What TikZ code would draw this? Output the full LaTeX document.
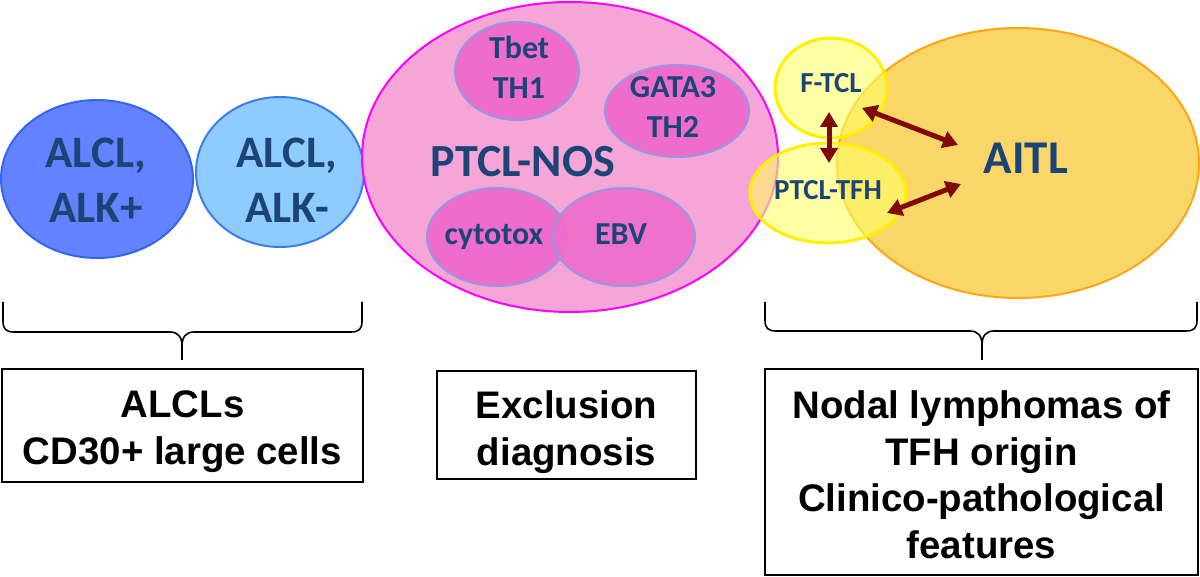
\documentclass[tikz,border=0pt]{standalone}
\usepackage{fontspec}
\setmainfont{Carlito}[BoldFont={Carlito Bold}]
\newfontfamily\boxfont{Liberation Sans}[BoldFont={Liberation Sans Bold}]
\usetikzlibrary{shapes.geometric,arrows.meta}
\definecolor{txtblue}{RGB}{28,68,118}
\definecolor{alkpfill}{RGB}{99,130,255}
\definecolor{alkpedge}{RGB}{51,102,238}
\definecolor{alkmfill}{RGB}{142,203,255}
\definecolor{alkmedge}{RGB}{61,125,235}
\definecolor{nosfill}{RGB}{245,166,214}
\definecolor{nosedge}{RGB}{255,0,255}
\definecolor{subfill}{RGB}{238,108,204}
\definecolor{subedge}{RGB}{150,150,225}
\definecolor{aitlfill}{RGB}{250,214,105}
\definecolor{aitledge}{RGB}{255,165,20}
\definecolor{tfhfill}{RGB}{255,255,102}
\definecolor{tfhedge}{RGB}{255,240,0}
\definecolor{arrowred}{RGB}{128,8,8}
\begin{document}
\begin{tikzpicture}[x=0.5pt,y=-0.5pt,
  cell/.style={ellipse, draw, line width=1pt, inner sep=0pt, outer sep=0pt},
  subcell/.style={cell, fill=subfill, draw=subedge},
  tfhcell/.style={cell, fill=tfhfill, fill opacity=0.6, draw=tfhedge, line width=1.5pt},
  lbl/.style={text=txtblue, inner sep=0pt, align=center},
  bigtxt/.style={lbl, font=\bfseries\fontsize{22.5}{27.5}\selectfont},
  midtxt/.style={lbl, font=\bfseries\fontsize{16}{20}\selectfont},
  smalltxt/.style={lbl, font=\bfseries\fontsize{14.5}{17}\selectfont},
  panel/.style={draw=black, line width=1pt, inner sep=0pt, outer sep=0pt},
  paneltxt/.style={inner sep=0pt, align=center, anchor=north, font=\boxfont\bfseries\fontsize{19.2}{23.4}\selectfont},
  bracest/.style={draw=black, line width=0.8pt},
  relarrow/.style={{Triangle[length=7.5pt,width=8.5pt]}-{Triangle[length=7.5pt,width=8.5pt]}, line width=2.5pt, draw=arrowred}
]
\useasboundingbox (0,0) rectangle (1200,577);

% ALCL group
\node[cell, fill=alkpfill, draw=alkpedge, minimum width=96pt, minimum height=79pt] (alkp) at (97,179) {};
\node[cell, fill=alkmfill, draw=alkmedge, minimum width=84pt, minimum height=75pt] (alkm) at (280,172) {};
\node[bigtxt] (alkpT) at (96,180) {ALCL,\\ALK+};
\node[bigtxt] (alkmT) at (287,180) {ALCL,\\ALK-};

% PTCL-NOS
\node[cell, fill=nosfill, draw=nosedge, minimum width=208pt, minimum height=155pt] (nos) at (570,157) {};
\node[subcell, minimum width=62pt, minimum height=49pt] (th1) at (517,71) {};
\node[subcell, minimum width=72pt, minimum height=46pt] (th2) at (677,111) {};
\node[subcell, minimum width=70pt, minimum height=49pt] (cyt) at (497,237) {};
\node[subcell, fill opacity=0.9, minimum width=71pt, minimum height=49pt] (ebv) at (624,237) {};
\node[lbl, font=\bfseries\fontsize{23}{27}\selectfont] (nosT) at (523,162) {PTCL-NOS};
\node[midtxt] (th1T) at (519,67.5) {Tbet\\TH1};
\node[midtxt] (th2T) at (673,107) {GATA3\\TH2};
\node[midtxt, anchor=base] (cytT) at (494,245) {cytotox};
\node[midtxt, anchor=base] (ebvT) at (621,245) {EBV};

% TFH group
\node[cell, fill=aitlfill, draw=aitledge, minimum width=181pt, minimum height=135pt] (aitl) at (1018,163) {};
\node[tfhcell, minimum width=56pt, minimum height=50pt] (ftcl) at (831,88) {};
\node[tfhcell, minimum width=78pt, minimum height=50pt] (tfh) at (828,193) {};
\node[lbl, font=\bfseries\fontsize{23.5}{27}\selectfont] (aitlT) at (1026,158) {AITL};
\node[smalltxt] (ftclT) at (831,83) {F-TCL};
\node[smalltxt] (tfhT) at (828,190) {PTCL-TFH};

% relation arrows
\coordinate (vA) at (829,112);
\coordinate (vB) at (829,163);
\coordinate (fA) at (862,108);
\coordinate (fB) at (958,145);
\coordinate (tA) at (887,213);
\coordinate (tB) at (961,184);
\draw[relarrow] (vA) -- (vB);
\draw[relarrow] (fA) -- (fB);
\draw[relarrow] (tA) -- (tB);

% braces
\draw[bracest] (3,302) -- (3,321) .. controls (3,329) and (6,332) .. (14,332) -- (170,332)
  .. controls (178,332) and (182,337) .. (182,346) -- (182,360);
\draw[bracest] (182,346) .. controls (182,337) and (186,332) .. (194,332) -- (351,332)
  .. controls (359,332) and (362,329) .. (362,321) -- (362,302);
\draw[bracest] (765,302) -- (765,320) .. controls (765,328) and (768,331) .. (776,331) -- (970,331)
  .. controls (978,331) and (982,336) .. (982,345) -- (982,360);
\draw[bracest] (982,345) .. controls (982,336) and (986,331) .. (994,331) -- (1186,331)
  .. controls (1194,331) and (1197,328) .. (1197,320) -- (1197,302);

% panels
\node[panel, minimum width=180.5pt, minimum height=56.5pt] (pL) at (182.5,425.5) {};
\node[panel, minimum width=129.5pt, minimum height=54pt] (pM) at (566.5,425) {};
\node[panel, minimum width=216.5pt, minimum height=103pt] (pR) at (981.5,472) {};
\node[paneltxt] (pLT) at (182.5,390) {ALCLs\\CD30+ large cells};
\node[paneltxt] (pMT) at (566.5,390) {Exclusion\\diagnosis};
\node[paneltxt] (pRT) at (981.5,390) {Nodal lymphomas of\\TFH origin\\Clinico-pathological\\features};
\end{tikzpicture}
\end{document}
